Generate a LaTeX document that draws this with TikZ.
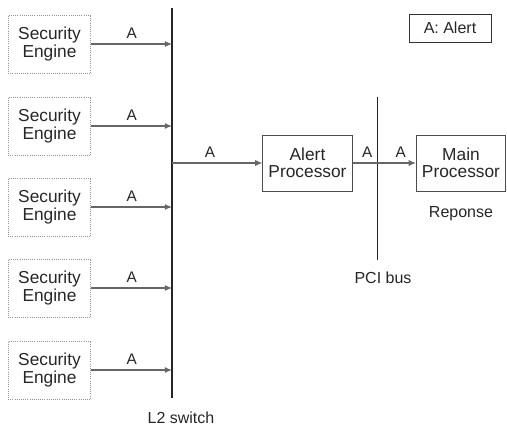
\documentclass[tikz,border=0pt]{standalone}
\usepackage{fontspec}
\setmainfont{Liberation Sans}
\usepackage{tikz}
\usetikzlibrary{arrows.meta,positioning,calc}
\tikzset{
  box/.style={draw, align=center, font=\fontsize{13}{13}\selectfont,
              inner sep=2pt, text=black!85},
  engine/.style={box, draw=gray!85, densely dotted, line width=0.6pt,
                 minimum width=62pt, minimum height=43.5pt},
  proc/.style={box, draw=black!70, line width=0.6pt,
               minimum width=67pt, minimum height=42pt},
  key/.style={box, draw=black!80, line width=0.6pt, minimum width=61.5pt,
              minimum height=21pt, font=\fontsize{12}{13}\selectfont},
  flow/.style={-{Latex[length=1.9mm,width=1.6mm]}, draw=black!60, line width=0.8pt},
  bus/.style={draw=black!85, line width=1pt},
  albl/.style={font=\fontsize{11.5}{12}\selectfont, text=black!85, inner sep=3.5pt},
  buslbl/.style={font=\fontsize{12}{13}\selectfont, text=black!85},
}
\begin{document}
\begin{tikzpicture}[x=0.75pt, y=-0.75pt]
  \useasboundingbox (0,0) rectangle (507,426);
  % L2 switch with the engines feeding it
  \coordinate (swtop) at (172,8);
  \coordinate (swbot) at (172,398);
  \draw[bus] (swtop) -- (swbot);
  \node[buslbl] (swlbl) at (181,418) {L2 switch};
  \foreach \i/\y in {1/44,2/126,3/207,4/288,5/370}{
    \node[engine] (se\i) at (49.5,\y) {Security\\Engine};
    \coordinate (sw\i) at (172,\y);
    \draw[flow] (se\i) -- node[albl, above] {A} (sw\i);
  }
  \coordinate (sw0) at (172,163);
  \node[proc] (ap) at (307.5,163) {Alert\\Processor};
  \node[proc] (mp) at (461,163) {Main\\Processor};
  \draw[flow] (sw0) -- node[albl, above, pos=0.42] {A} (ap);
  % PCI bus between the processors
  \coordinate (pcitop) at (377,97);
  \coordinate (pcibot) at (377,260);
  \draw[bus, line width=0.7pt] (pcitop) -- (pcibot);
  \node[buslbl] (pcilbl) at (383,278) {PCI bus};
  \draw[flow] (ap) -- node[albl, above, pos=0.23] {A}
                      node[albl, above, pos=0.76] {A} (mp);
  \node[buslbl, below=8pt of mp] (resp) {Reponse};
  \node[key] (legend) at (450,28) {A: Alert};
\end{tikzpicture}
\end{document}
